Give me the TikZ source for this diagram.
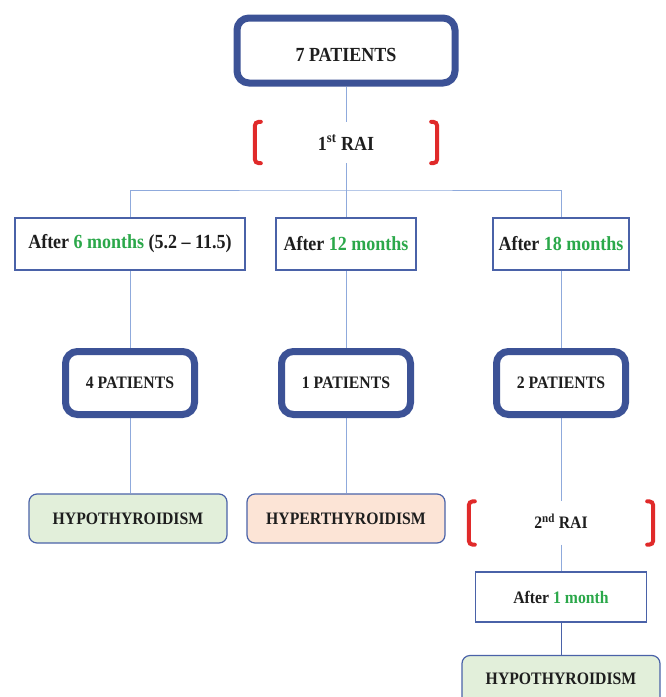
\documentclass[tikz,border=0pt]{standalone}
\usepackage{fontspec}
\setmainfont{Liberation Serif}[FakeStretch=0.9]
\usepackage{tikz}
\usetikzlibrary{positioning, backgrounds}

\definecolor{frameblue}{HTML}{3C5296}
\definecolor{lineblue}{HTML}{8FAADC}
\definecolor{boxblue}{HTML}{4A62A8}
\definecolor{monthgreen}{HTML}{2BA84A}
\definecolor{raired}{HTML}{E02A2A}
\definecolor{hypogreen}{HTML}{E2EFDA}
\definecolor{hyperpeach}{HTML}{FCE4D6}
\definecolor{txtblack}{HTML}{1E1E1E}

\newcommand{\txtbig}{\fontsize{20}{24}\selectfont\bfseries}
\newcommand{\txtsmall}{\fontsize{17.5}{21}\selectfont\bfseries}
\newcommand{\mon}[1]{\textcolor{monthgreen}{#1}}

\tikzset{
    patients/.style={draw=frameblue, line width=7pt, rounded corners=12pt, fill=white, text=txtblack},
    period/.style={draw=boxblue, line width=1.3pt, fill=white, minimum height=52pt, text=txtblack},
    outcome/.style={draw=boxblue, line width=1.2pt, rounded corners=8pt, minimum width=198pt, minimum height=49pt, text=txtblack},
    rai/.style={text=txtblack},
    bracket/.style={draw=raired, line width=4pt, rounded corners=4pt, line cap=round},
    link/.style={draw=lineblue, line width=1pt}
}

\begin{document}
\begin{tikzpicture}[x=1pt, y=-1pt]
    \useasboundingbox (0,0) rectangle (665,697);

    % top of the tree
    \node[patients, minimum width=218pt, minimum height=65pt, text height=22pt, text depth=0pt, font=\txtbig] (all) at (346,50.5) {7 PATIENTS};
    \node[rai, minimum width=182pt, minimum height=41pt, font=\txtbig] (rai1) at (346,142.5) {1\textsuperscript{st} RAI};
    \coordinate (split) at (346,190);

    % follow-up periods
    \node[period, minimum width=230pt, font=\txtbig] (after6) at (130,244) {After \mon{6 months} (5.2 -- 11.5)};
    \node[period, minimum width=140pt, font=\txtbig] (after12) at (346,244) {After \mon{12 months}};
    \node[period, minimum width=136pt, font=\txtbig] (after18) at (561,244) {After \mon{18 months}};

    % patient groups
    \foreach \n/\x/\num in {p4/130/4, p1/346/1, p2/561/2}
        \node[patients, minimum width=129pt, minimum height=63pt, font=\txtsmall] (\n) at (\x,383) {\num\ PATIENTS};

    % outcomes
    \node[outcome, fill=hypogreen, font=\txtsmall] (hypo1) at (128,518.5) {HYPOTHYROIDISM};
    \node[outcome, fill=hyperpeach, font=\txtsmall] (hyper) at (346,518.5) {HYPERTHYROIDISM};
    \node[rai, minimum width=184pt, minimum height=43pt, font=\txtsmall] (rai2) at (561,523) {\raisebox{3pt}{2\textsuperscript{nd} RAI}};
    \node[period, minimum width=171pt, minimum height=50pt, font=\txtsmall] (after1) at (561,597) {After \mon{1 month}};
    \node[outcome, fill=hypogreen, font=\txtsmall] (hypo2) at (561,680) {\raisebox{3pt}{HYPOTHYROIDISM}};

    % red brackets round the RAI steps
    \foreach \r in {rai1, rai2} {
        \draw[bracket] ([xshift=6pt]\r.north west) -- (\r.north west) -- (\r.south west) -- ([xshift=6pt]\r.south west);
        \draw[bracket] ([xshift=-6pt]\r.north east) -- (\r.north east) -- (\r.south east) -- ([xshift=-6pt]\r.south east);
    }

    % connectors
    \begin{scope}[on background layer]
        \draw[link] (all) -- (rai1);
        \draw[link] (rai1) -- (after12);
        \draw[link] (after6.north) |- (split) -| (after18.north);
        \draw[link] (after6) -- (p4);
        \draw[link] (after12) -- (p1);
        \draw[link] (after18) -- (p2);
        \draw[link] (p4.south) -- (p4.south |- hypo1.north);
        \draw[link] (p1) -- (hyper);
        \draw[link] (p2) -- (rai2);
        \draw[link] (rai2) -- (after1);
        \draw[link, draw=boxblue] (after1) -- (hypo2);
    \end{scope}
\end{tikzpicture}
\end{document}
